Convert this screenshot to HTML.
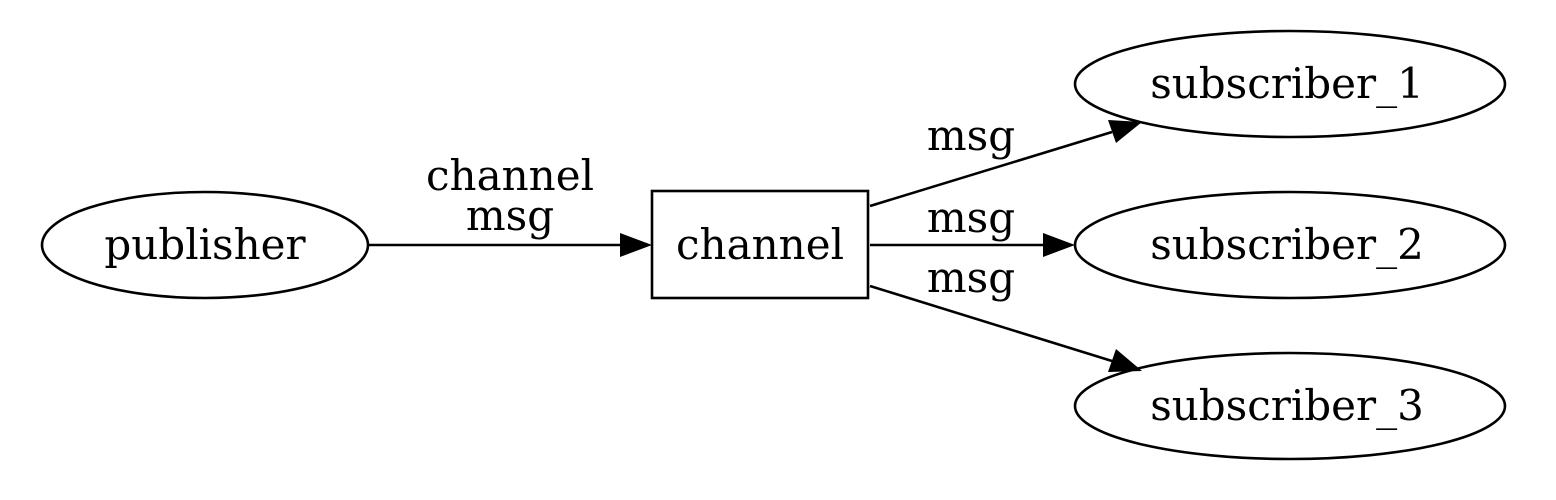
<!DOCTYPE html>
<html><head><meta charset="utf-8"><style>
html,body{margin:0;padding:0;background:#fff;}
svg{display:block;}
text{font-family:"DejaVu Serif","Liberation Serif",serif;font-size:42px;fill:#000;}
</style></head><body>
<svg width="1556" height="500" viewBox="0 0 1556 500" xmlns="http://www.w3.org/2000/svg">
<rect width="1556" height="500" fill="#fff"/>
<g fill="none" stroke="#000" stroke-width="2.6">
<ellipse cx="205" cy="245" rx="163" ry="53"/>
<rect x="652" y="191" width="216" height="107"/>
<ellipse cx="1290" cy="84" rx="215" ry="53"/>
<ellipse cx="1290" cy="245" rx="215" ry="53"/>
<ellipse cx="1290" cy="406" rx="215" ry="53"/>
<line x1="369" y1="245" x2="620" y2="245"/>
<line x1="870" y1="245" x2="1043" y2="245"/>
<line x1="870" y1="206" x2="1112" y2="132"/>
<line x1="870" y1="286" x2="1112" y2="361"/>
</g>
<g fill="#000">
<polygon points="652,245 620,233 620,257"/>
<polygon points="1075,245 1043,233 1043,257"/>
<polygon points="1142,122 1108,120 1116,143"/>
<polygon points="1142,371 1116,349 1108,372"/>
</g>
<g text-anchor="middle">
<text x="205" y="259">publisher</text>
<text x="760" y="259">channel</text>
<text x="1287" y="98">subscriber_1</text>
<text x="1287" y="259">subscriber_2</text>
<text x="1287" y="420">subscriber_3</text>
<text x="510" y="190">channel</text>
<text x="510" y="230">msg</text>
<text x="971" y="150">msg</text>
<text x="971" y="232">msg</text>
<text x="971" y="292">msg</text>
</g>
</svg>
</body></html>
